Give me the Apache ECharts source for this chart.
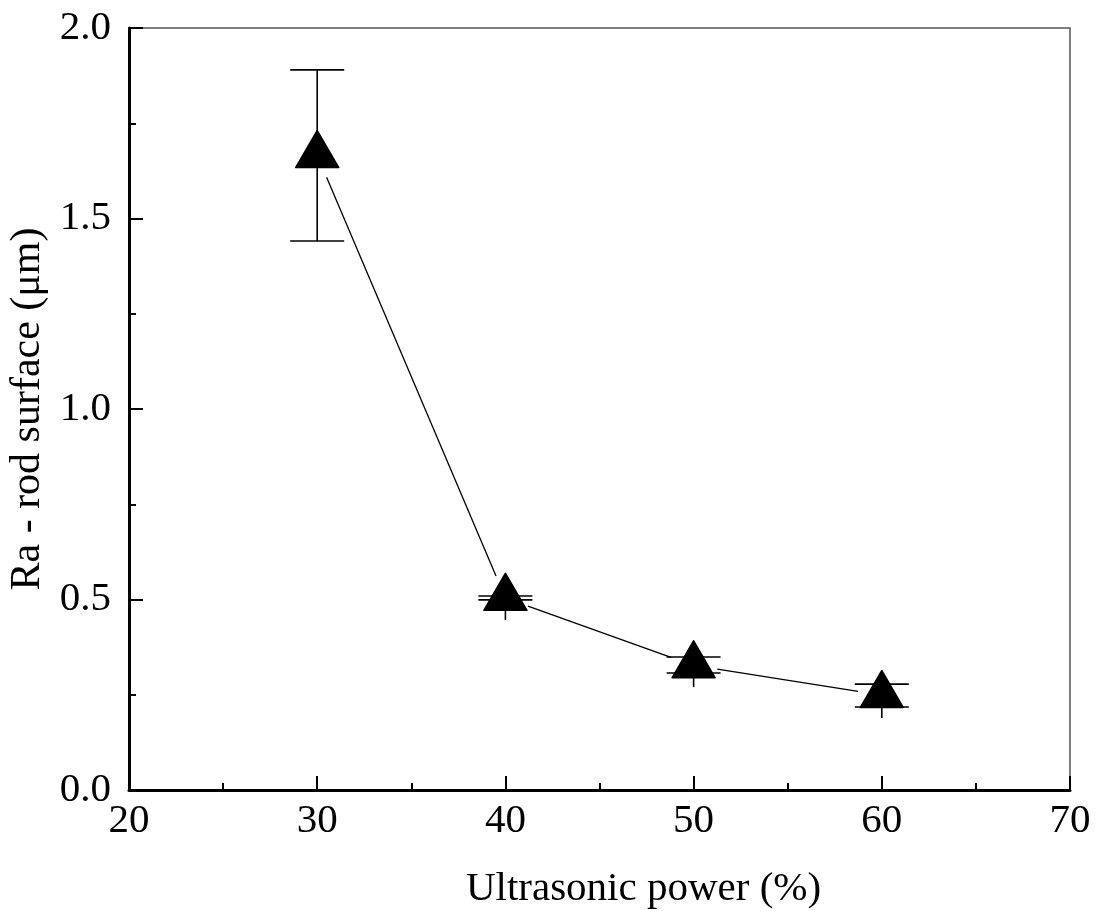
<!DOCTYPE html>
<html>
<head>
<meta charset="utf-8">
<title>Ra vs ultrasonic power</title>
<script src="https://cdn.jsdelivr.net/npm/echarts@6/dist/echarts.min.js"></script>
<style>
  html, body { margin: 0; padding: 0; background: #fff; }
  #chart { width: 1098px; height: 911px; }
</style>
</head>
<body>
<div id="chart"></div>
<script>
// Ultrasonic power (%) and measured rod-surface roughness Ra (µm)
const power = [30, 40, 50, 60];
const raMean = [1.666, 0.504, 0.327, 0.249];
const errHigh = [1.890, 0.509, 0.349, 0.278];
const errLow = [1.441, 0.499, 0.307, 0.218];
const stemLow = [1.441, 0.446, 0.270, 0.189];

const xTicks = { min: 20, max: 70, interval: 10 };
const yTicks = { min: 0, max: 2.0, interval: 0.5 };

const FONT = '"Liberation Serif", "Times New Roman", serif';
const FONT_SIZE = 41;
const TRI_W = 43, TRI_H = 37;
const LINE_GAP = 24;   // blank space left around each symbol by the connecting line
const CAP_HALF = 27;

const chart = echarts.init(document.getElementById('chart'), null, { renderer: 'canvas' });

// connecting segments between consecutive points
const segData = [];
for (let i = 0; i < power.length - 1; i++) {
  segData.push([power[i], raMean[i], power[i + 1], raMean[i + 1]]);
}

// error bar data
const errData = power.map((p, i) => [p, errHigh[i], errLow[i], stemLow[i]]);

const option = {
  animation: false,
  backgroundColor: '#fff',
  grid: {
    left: 129, right: 28, top: 28, bottom: 121,
    containLabel: false,
    outerBoundsMode: 'none',
    show: true, borderColor: '#555', borderWidth: 1.5, backgroundColor: 'transparent'
  },
  xAxis: {
    type: 'value',
    min: xTicks.min, max: xTicks.max, interval: xTicks.interval,
    name: 'Ultrasonic power (%)',
    nameLocation: 'middle',
    nameGap: 79,
    nameTextStyle: { fontFamily: FONT, fontSize: FONT_SIZE, color: '#000', padding: [0, 0, 0, 88] },
    axisLine: { show: true, onZero: false, lineStyle: { color: '#000', width: 3 } },
    axisTick: { show: true, inside: true, length: 14, lineStyle: { color: '#000', width: 2 } },
    minorTick: { show: true, splitNumber: 2, length: 7, lineStyle: { color: '#000', width: 2 } },
    splitLine: { show: false },
    axisLabel: { fontFamily: FONT, fontSize: FONT_SIZE, color: '#000', margin: 11 }
  },
  yAxis: {
    type: 'value',
    min: yTicks.min, max: yTicks.max, interval: yTicks.interval,
    name: 'Ra - rod surface (μm)',
    nameLocation: 'middle',
    nameGap: 80,
    nameTextStyle: { fontFamily: FONT, fontSize: 42, color: '#000' },
    axisLine: { show: true, onZero: false, lineStyle: { color: '#000', width: 3 } },
    axisTick: { show: true, inside: true, length: 14, lineStyle: { color: '#000', width: 2 } },
    minorTick: { show: true, splitNumber: 2, length: 7, lineStyle: { color: '#000', width: 2 } },
    splitLine: { show: false },
    axisLabel: {
      fontFamily: FONT, fontSize: FONT_SIZE, color: '#000', margin: 18,
      formatter: v => v.toFixed(1)
    }
  },
  series: [
    {
      // line segments, trimmed near each symbol
      type: 'custom',
      data: segData,
      silent: true,
      z: 2,
      renderItem: function (params, api) {
        const a = api.coord([api.value(0), api.value(1)]);
        const b = api.coord([api.value(2), api.value(3)]);
        const dx = b[0] - a[0], dy = b[1] - a[1];
        const len = Math.sqrt(dx * dx + dy * dy);
        const ux = dx / len, uy = dy / len;
        return {
          type: 'line',
          shape: {
            x1: a[0] + ux * LINE_GAP, y1: a[1] + uy * LINE_GAP,
            x2: b[0] - ux * LINE_GAP, y2: b[1] - uy * LINE_GAP
          },
          style: { stroke: '#000', lineWidth: 1.3 }
        };
      }
    },
    {
      // error bars
      type: 'custom',
      data: errData,
      silent: true,
      z: 3,
      renderItem: function (params, api) {
        const x = api.value(0);
        const hi = api.coord([x, api.value(1)]);
        const lo = api.coord([x, api.value(2)]);
        const st = api.coord([x, api.value(3)]);
        const style = { stroke: '#000', lineWidth: 1.6 };
        const bottom = Math.max(st[1], lo[1]);
        return {
          type: 'group',
          children: [
            { type: 'line', shape: { x1: hi[0], y1: hi[1], x2: st[0], y2: bottom }, style },
            { type: 'line', shape: { x1: hi[0] - CAP_HALF, y1: hi[1], x2: hi[0] + CAP_HALF, y2: hi[1] }, style },
            { type: 'line', shape: { x1: lo[0] - CAP_HALF, y1: lo[1], x2: lo[0] + CAP_HALF, y2: lo[1] }, style }
          ]
        };
      }
    },
    {
      // triangle symbols, centroid placed on the data value
      type: 'scatter',
      data: power.map((p, i) => [p, raMean[i]]),
      symbol: 'triangle',
      symbolSize: [TRI_W, TRI_H],
      symbolOffset: [0, -TRI_H / 6],
      itemStyle: { color: '#000', opacity: 1, borderColor: '#000', borderWidth: 1.5, borderJoin: 'round' },
      silent: true,
      z: 4
    }
  ]
};

chart.setOption(option);
</script>
</body>
</html>
